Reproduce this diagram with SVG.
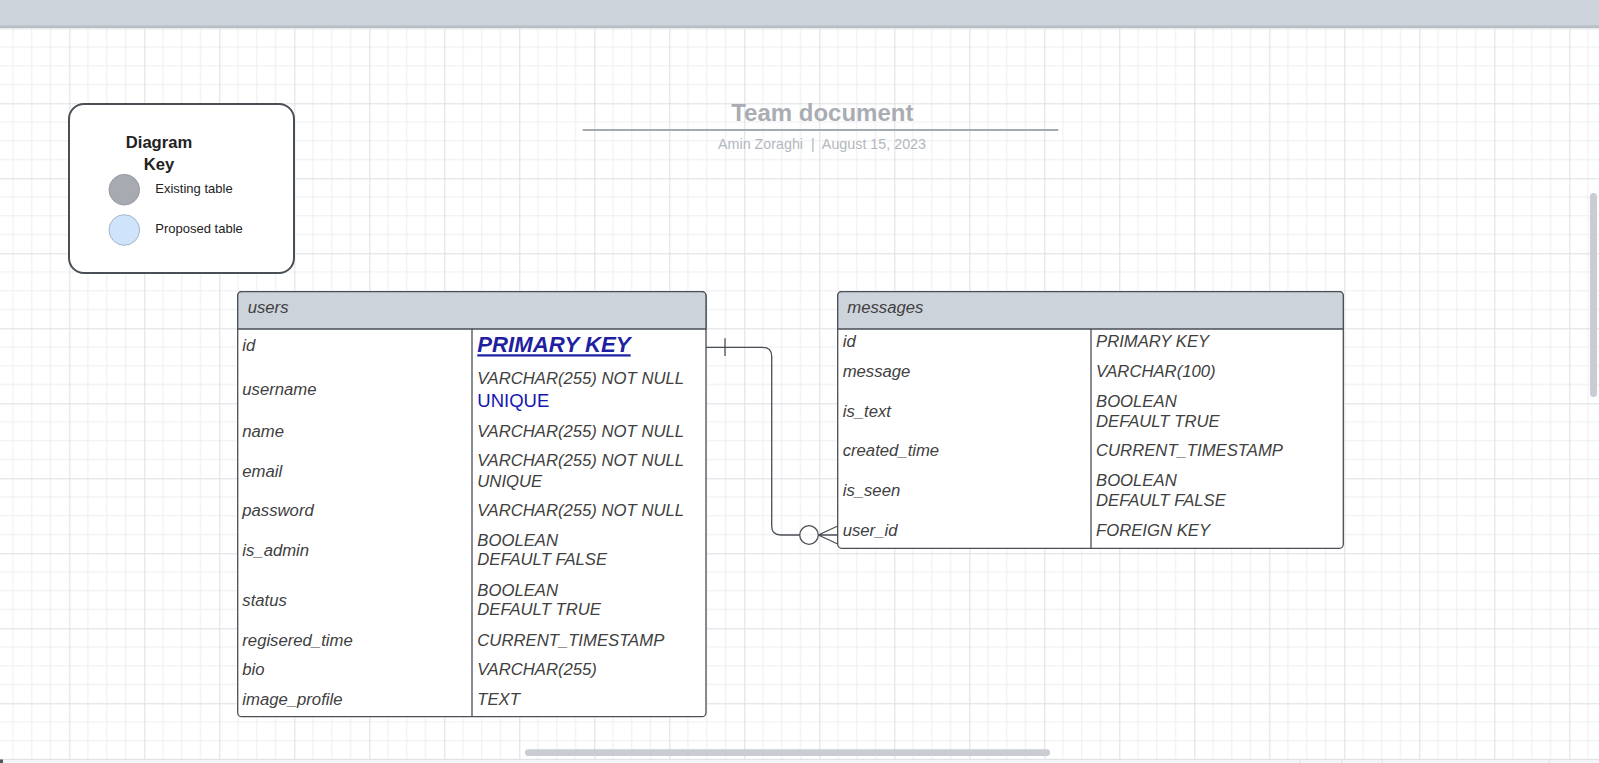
<svg xmlns="http://www.w3.org/2000/svg" width="1599" height="763" viewBox="0 0 1599 763">
<style>
text{font-family:"Liberation Sans",Arial,sans-serif}
.f{font-size:16.7px;font-style:italic;fill:#404040}
.tbl{fill:#fff;stroke:#4a4e55;stroke-width:1.3}
.hdr{fill:#cdd3db;stroke:#4a4e55;stroke-width:1.3}
.div{stroke:#4a4e55;stroke-width:1.3}
.con{fill:none;stroke:#4a4e55;stroke-width:1.3}
.k{font-size:13px;fill:#222}
</style>
<defs>
<pattern id="grid" patternUnits="userSpaceOnUse" x="69.3" y="28.3" width="75" height="75">
<rect width="75" height="75" fill="#ffffff"/>
<path d="M18.75 0V75M37.5 0V75M56.25 0V75M0 18.75H75M0 37.5H75M0 56.25H75" stroke="#eceef1" stroke-width="1"/>
<path d="M0.5 0V75M0 0.5H75" stroke="#dcdfe3" stroke-width="1"/>
</pattern>
</defs>
<rect x="0" y="0" width="1599" height="763" fill="#ffffff"/>
<rect x="0" y="28" width="1599" height="732" fill="url(#grid)"/>
<rect x="0" y="0" width="1599" height="27" fill="#cdd3db"/>
<rect x="0" y="25.5" width="1599" height="2.5" fill="#b8bec6"/>
<rect x="0" y="759.3" width="1599" height="3.7" fill="#f3f5f7"/>
<path d="M0 759.5H1599" stroke="#dfe2e6" stroke-width="1"/>
<path d="M1300 759.5V763M1341.7 759.5V763M1382.3 759.5V763M1549.3 759.5V763" stroke="#dfe2e6" stroke-width="1"/>
<rect x="0" y="759.5" width="3" height="3.5" fill="#555"/>
<rect x="1590" y="193" width="7" height="204" rx="3.5" fill="#c9ccd2"/>
<rect x="525" y="749.3" width="525" height="6.7" rx="3.3" fill="#c9ccd2"/>

<g id="title">
<text x="822.3" y="120.7" text-anchor="middle" font-size="24" font-weight="bold" fill="#a9adb3">Team document</text>
<path d="M582.7 130H1058.3" stroke="#a5a9b0" stroke-width="2"/>
<text x="822" y="149" text-anchor="middle" font-size="14.3" fill="#b3b7bd" style="white-space:pre">Amin Zoraghi  |  August 15, 2023</text>
</g>

<g id="key">
<rect x="69" y="104" width="225" height="169" rx="15" fill="#fff" stroke="#4a4e55" stroke-width="2"/>
<text x="159" y="148" text-anchor="middle" font-size="16.6" font-weight="bold" fill="#222">Diagram</text>
<text x="159" y="170" text-anchor="middle" font-size="16.6" font-weight="bold" fill="#222">Key</text>
<circle cx="124.3" cy="189.7" r="15.3" fill="#a7aab1" stroke="#959aa1" stroke-width="1"/>
<text class="k" x="155.3" y="193.3">Existing table</text>
<circle cx="124.3" cy="230" r="15.3" fill="#cfe3fa" stroke="#a3b4cc" stroke-width="1"/>
<text class="k" x="155.3" y="233.3">Proposed table</text>
</g>

<g id="users">
<rect class="tbl" x="237.7" y="291.7" width="468.3" height="425" rx="4"/>
<path class="hdr" d="M237.7 329V295.7A4 4 0 0 1 241.7 291.7H702A4 4 0 0 1 706 295.7V329Z"/>
<path class="div" d="M472 329V716.7"/>
<text class="f" x="247.7" y="313.3">users</text>
<text class="f" x="242.3" y="350.7">id</text>
<text x="477.3" y="352.3" font-size="22.2" font-weight="bold" font-style="italic" fill="#1f1fa3" text-decoration="underline">PRIMARY KEY</text>
<text class="f" x="242.3" y="395">username</text>
<text class="f" x="477.3" y="384.3">VARCHAR(255) NOT NULL</text>
<text x="477.3" y="406.7" font-size="18.5" fill="#1616b0">UNIQUE</text>
<text class="f" x="242.3" y="436.7">name</text>
<text class="f" x="477.3" y="436.7">VARCHAR(255) NOT NULL</text>
<text class="f" x="242.3" y="476.7">email</text>
<text class="f" x="477.3" y="466">VARCHAR(255) NOT NULL</text>
<text class="f" x="477.3" y="486.7">UNIQUE</text>
<text class="f" x="242.3" y="516">password</text>
<text class="f" x="477.3" y="516">VARCHAR(255) NOT NULL</text>
<text class="f" x="242.3" y="556">is_admin</text>
<text class="f" x="477.3" y="545.7">BOOLEAN</text>
<text class="f" x="477.3" y="565.3">DEFAULT FALSE</text>
<text class="f" x="242.3" y="606">status</text>
<text class="f" x="477.3" y="595.7">BOOLEAN</text>
<text class="f" x="477.3" y="615">DEFAULT TRUE</text>
<text class="f" x="242.3" y="645.7">regisered_time</text>
<text class="f" x="477.3" y="645.7">CURRENT_TIMESTAMP</text>
<text class="f" x="242.3" y="675.3">bio</text>
<text class="f" x="477.3" y="675.3">VARCHAR(255)</text>
<text class="f" x="242.3" y="705">image_profile</text>
<text class="f" x="477.3" y="705">TEXT</text>
</g>

<g id="messages">
<rect class="tbl" x="837.7" y="291.7" width="505.6" height="256.6" rx="4"/>
<path class="hdr" d="M837.7 329V295.7A4 4 0 0 1 841.7 291.7H1339.3A4 4 0 0 1 1343.3 295.7V329Z"/>
<path class="div" d="M1091 329V548.3"/>
<text class="f" x="847.3" y="313.3">messages</text>
<text class="f" x="842.7" y="346.7">id</text>
<text class="f" x="1096" y="346.7" fill="#4a4a4a">PRIMARY KEY</text>
<text class="f" x="842.7" y="376.7">message</text>
<text class="f" x="1096" y="376.7">VARCHAR(100)</text>
<text class="f" x="842.7" y="416.7">is_text</text>
<text class="f" x="1096" y="406.7">BOOLEAN</text>
<text class="f" x="1096" y="426.7">DEFAULT TRUE</text>
<text class="f" x="842.7" y="456">created_time</text>
<text class="f" x="1096" y="456">CURRENT_TIMESTAMP</text>
<text class="f" x="842.7" y="496">is_seen</text>
<text class="f" x="1096" y="486">BOOLEAN</text>
<text class="f" x="1096" y="506">DEFAULT FALSE</text>
<text class="f" x="842.7" y="536">user_id</text>
<text class="f" x="1096" y="536">FOREIGN KEY</text>
</g>

<g id="connectors">
<path class="con" d="M706 347.3H762.7Q771.7 347.3 771.7 356.3V526Q771.7 535 780.7 535H799.7"/>
<path class="con" d="M725 338.3V356"/>
<circle class="con" cx="809" cy="535" r="9.3" fill="#fff"/>
<path class="con" d="M818.3 535L837.7 526M818.3 535H837.7M818.3 535L837.7 544"/>
</g>
</svg>
